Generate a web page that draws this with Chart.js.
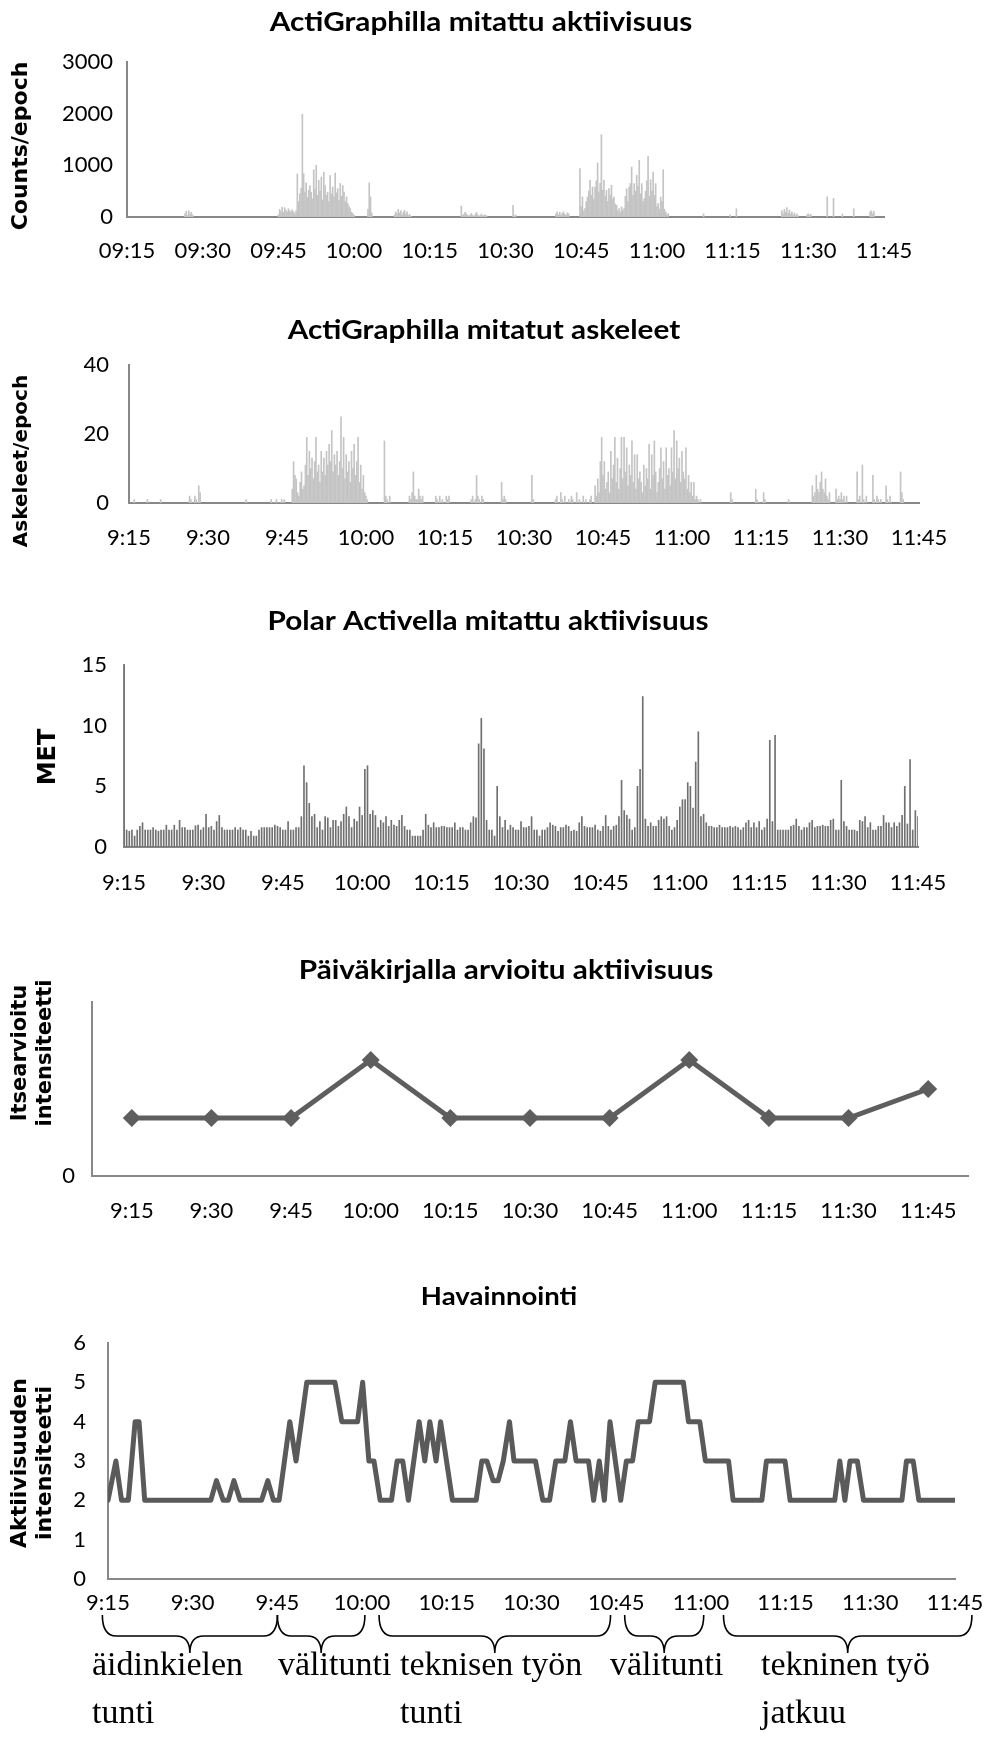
<!DOCTYPE html>
<html>
<head>
<meta charset="utf-8">
<script src="https://cdn.jsdelivr.net/npm/chart.js@4.4.1/dist/chart.umd.min.js"></script>
<style>
  html, body { margin: 0; padding: 0; background: #fff; }
  #page { position: relative; width: 987px; height: 1744px; overflow: hidden; }
  #page canvas { position: absolute; left: 0; }
  .lesson { position: absolute; font-family: "Liberation Serif", serif; font-size: 34px; line-height: 48px; color: #000; white-space: nowrap; }
</style>
</head>
<body>
<div id="page">
  <canvas id="counts" width="987" height="290" style="top:0px"></canvas>
  <canvas id="steps" width="987" height="290" style="top:290px"></canvas>
  <canvas id="met" width="987" height="330" style="top:580px"></canvas>
  <canvas id="diary" width="987" height="330" style="top:910px"></canvas>
  <canvas id="obs" width="987" height="504" style="top:1240px"></canvas>
  <div class="lesson" style="left:92px; top:1640px">äidinkielen<br>tunti</div>
  <div class="lesson" style="left:278px; top:1640px">välitunti</div>
  <div class="lesson" style="left:400px; top:1640px">teknisen työn<br>tunti</div>
  <div class="lesson" style="left:610px; top:1640px">välitunti</div>
  <div class="lesson" style="left:761px; top:1640px">tekninen työ<br>jatkuu</div>
</div>
<script>
// --- tick labels ---
const clockLabels = ['9:15', '9:30', '9:45', '10:00', '10:15', '10:30', '10:45', '11:00', '11:15', '11:30', '11:45'];
const clockLabelsPadded = ['09:15', '09:30', '09:45', '10:00', '10:15', '10:30', '10:45', '11:00', '11:15', '11:30', '11:45'];

// --- ActiGraph counts (15 s epochs, minutes after 9:15; zero epochs left out) ---
const epoch15 = 0.25;
const countStarts = [11.5, 30.0, 33.75, 47.75, 53.0, 66.25, 76.5, 85.0, 89.75, 114.25, 119.5, 120.75, 129.75, 134.75, 138.75, 140.0, 141.75, 144.0, 147.25];
const countRuns = [
  [60, 110, 30, 120, 50, 90, 40],
  [40, 150, 110, 190, 90, 180, 130, 100, 160, 120, 90, 140, 100, 60, 120],
  [830, 300, 450, 560, 1990, 840, 480, 660, 380, 520, 610, 480, 350, 915, 540, 1000, 420, 710, 500, 775, 330, 865, 610, 420, 480, 300, 800, 450, 580, 390, 850, 470, 550, 320, 650, 400, 610, 480, 300, 390, 260, 200, 160, 90, 65, 30],
  [150, 660, 390, 80],
  [40, 100, 60, 150, 80, 120, 40, 90, 130, 60, 100, 30, 50, 20],
  [210, 30, 50, 90, 60, 30, 20, 40, 70, 30, 20, 50, 90, 40, 20, 30, 60, 20, 30, 40, 20],
  [225, 20, 40],
  [60, 100, 40, 90, 30, 70, 100, 50, 30, 80, 60],
  [935, 200, 387, 120, 161, 300, 387, 500, 710, 420, 580, 350, 580, 700, 1045, 480, 650, 1593, 520, 710, 400, 516, 300, 548, 420, 613, 350, 387, 250, 226, 120, 161, 90, 194, 130, 161, 400, 548, 300, 580, 650, 968, 420, 645, 500, 806, 600, 1097, 450, 645, 300, 355, 500, 700, 1174, 400, 722, 500, 871, 420, 645, 200, 258, 150, 387, 300, 916, 150, 97, 40, 65],
  [60],
  [40],
  [160],
  [120, 60, 150, 90, 180, 70, 130, 60, 100, 40, 80, 30, 60, 20],
  [40, 60, 30, 50],
  [390],
  [360],
  [60],
  [160],
  [100, 120, 60, 110]
];

// --- ActiGraph steps (15 s epochs) ---
const stepStarts = [1.0, 3.5, 6.0, 11.5, 22.25, 27.0, 31.0, 48.5, 53.25, 58.25, 65.0, 70.75, 76.5, 81.0, 88.5, 114.25, 119.0, 125.25, 129.75, 134.25, 138.25, 141.25, 143.75, 146.5];
const stepRuns = [
  [1], [1], [1],
  [2, 1, 0, 0, 2, 1, 0, 5, 3],
  [1],
  [1, 0, 0, 0, 1, 0, 0, 0, 1, 0, 1],
  [4, 12, 8, 7, 3, 2, 6, 9, 4, 5, 11, 19, 8, 15, 10, 13, 7, 12, 19, 9, 11, 6, 15, 9, 13, 8, 15, 11, 17, 12, 21, 9, 14, 11, 15, 8, 12, 25, 10, 19, 7, 14, 9, 12, 6, 15, 10, 17, 8, 12, 19, 6, 11, 4, 8, 3, 2, 1],
  [18, 2, 1, 0, 2],
  [2, 1, 3, 9, 2, 1, 1, 4, 2, 1, 2],
  [2, 1, 0, 2, 0, 1, 0, 0, 2, 1, 2],
  [1, 2, 0, 1, 8, 2, 1, 0, 2, 1],
  [6, 1, 2, 1],
  [8, 1],
  [1, 2, 0, 0, 3, 1, 0, 2, 0, 0, 1, 0, 2, 1, 0, 0, 3, 0, 1, 0, 0, 2, 0, 1, 0, 0, 1, 2],
  [5, 2, 7, 3, 12, 19, 8, 12, 4, 6, 9, 3, 15, 7, 11, 19, 6, 13, 4, 10, 19, 7, 19, 9, 16, 5, 11, 8, 18, 6, 14, 4, 14, 7, 9, 6, 3, 11, 5, 10, 7, 17, 4, 14, 8, 18, 9, 3, 6, 10, 16, 7, 12, 4, 16, 8, 10, 5, 16, 9, 21, 7, 18, 10, 13, 6, 15, 9, 7, 16, 4, 8, 3, 6, 2, 6, 1, 2, 1, 0, 1],
  [3, 1],
  [4, 1, 0, 0, 0, 0, 3, 1],
  [1],
  [5, 2, 3, 8, 4, 3, 6, 9, 4, 3, 7, 2, 1, 3],
  [4, 1, 2, 1, 3, 1, 2, 0, 2],
  [9, 1, 2, 0, 11, 1, 0, 2],
  [8, 1, 0, 2, 1, 0, 1],
  [5, 1, 0, 2],
  [9, 3, 1]
];

// --- Polar Active MET (30 s epochs from 9:15) ---
const epoch30 = 0.5;
const metValues = [
  15, 1.4, 1.3, 1.4, 0.9, 1.4, 1.7, 2.0, 1.4, 1.4,
  1.4, 1.6, 1.4, 1.3, 1.4, 1.4, 1.8, 1.4, 1.4, 1.8,
  1.4, 2.2, 1.6, 1.6, 1.4, 1.4, 1.4, 1.75, 1.8, 1.4,
  1.6, 2.7, 1.6, 1.7, 1.4, 2.1, 2.6, 1.6, 1.4, 1.4,
  1.4, 1.4, 1.6, 1.4, 1.6, 1.4, 1.4, 0.9, 1.3, 0.9,
  0.9, 1.4, 1.6, 1.6, 1.6, 1.6, 1.6, 1.8, 1.7, 1.6,
  1.4, 1.4, 2.1, 1.4, 1.4, 1.6, 1.6, 2.5, 6.7, 5.3,
  3.6, 2.5, 2.7, 1.6, 2.1, 1.4, 2.5, 2.4, 1.6, 2.2,
  2.2, 1.7, 2.1, 2.7, 3.3, 2.5, 1.6, 2.3, 2.1, 3.3,
  2.6, 6.4, 6.7, 2.7, 3.0, 2.6, 1.6, 2.2, 2.0, 2.5,
  1.7, 2.2, 1.8, 1.7, 2.2, 2.6, 1.7, 1.4, 1.4, 0.9,
  0.9, 0.9, 0.9, 1.4, 2.7, 1.8, 1.6, 2.0, 1.6, 1.6,
  1.7, 1.7, 1.6, 1.6, 1.6, 2.0, 1.4, 1.6, 1.6, 1.4,
  1.4, 2.0, 2.5, 2.4, 8.5, 10.6, 8.1, 2.2, 1.4, 1.4,
  0.9, 5.0, 2.5, 1.6, 2.2, 1.4, 1.8, 1.6, 1.4, 1.4,
  2.1, 1.6, 1.6, 1.7, 2.5, 1.4, 1.4, 0.9, 1.4, 1.4,
  1.6, 2.0, 1.8, 1.7, 1.3, 1.6, 1.6, 1.8, 1.7, 1.3,
  1.4, 1.3, 2.0, 2.5, 1.7, 1.6, 1.6, 1.6, 1.8, 1.4,
  1.3, 1.7, 2.6, 1.7, 1.4, 1.7, 1.8, 2.5, 5.5, 3.0,
  2.6, 2.3, 1.4, 1.6, 5.0, 6.4, 12.4, 2.3, 1.7, 2.0,
  1.7, 1.7, 2.2, 2.5, 2.3, 2.5, 1.7, 1.4, 1.6, 2.2,
  3.3, 3.9, 3.9, 5.3, 5.0, 3.2, 7.0, 9.5, 2.5, 2.7,
  2.0, 1.7, 1.7, 1.6, 1.6, 1.8, 1.6, 1.6, 1.6, 1.7,
  1.6, 1.7, 1.6, 1.4, 1.6, 2.0, 2.2, 1.6, 2.0, 1.6,
  2.1, 1.4, 1.6, 2.3, 8.8, 2.1, 9.2, 1.4, 1.4, 1.4,
  1.4, 1.4, 1.7, 1.8, 2.3, 1.7, 1.4, 1.6, 1.6, 2.0,
  2.2, 1.6, 1.7, 1.7, 1.8, 1.7, 1.7, 2.2, 2.3, 1.4,
  1.4, 5.5, 2.1, 1.7, 1.4, 1.4, 1.4, 1.3, 2.2, 2.1,
  2.5, 1.6, 2.0, 1.4, 1.4, 1.7, 1.7, 2.6, 2.0, 2.0,
  1.6, 2.0, 1.7, 2.0, 2.6, 5.0, 1.9, 7.2, 1.4, 3.0,
  2.5
];

// --- diary (self-rated intensity every 15 min) ---
const diaryValues = [1, 1, 1, 2, 1, 1, 1, 2, 1, 1, 1.5];

// --- observation (minutes after 9:15, intensity) ---
const obsMin = [0, 1.4, 2.4, 3.6, 4.8, 5.5, 6.5, 18.2, 19.2, 20.4, 21.3, 22.3, 23.4, 27.2, 28.3, 29.3, 30.3, 32.2, 33.3, 35.2, 40.2, 41.4, 44.2, 45.1, 46.2, 47.1, 48.2, 50.2, 51.2, 52.2, 53.2, 55.1, 56.1, 57, 58.1, 58.9, 61, 65.2, 66.2, 67.1, 68.2, 69.1, 70, 71.1, 71.9, 75.7, 77, 78.2, 79.3, 80.9, 81.9, 82.9, 85.1, 86, 87, 87.9, 88.9, 90.8, 91.8, 92.9, 93.9, 95.9, 96.9, 101.9, 102.8, 104.8, 105.8, 109.9, 110.7, 115.8, 116.6, 119.9, 120.8, 128.7, 129.6, 130.5, 131.4, 132.7, 133.8, 140.6, 141.4, 142.6, 143.6, 150];
const obsVal = [2, 3, 2, 2, 4, 4, 2, 2, 2.5, 2, 2, 2.5, 2, 2, 2.5, 2, 2, 4, 3, 5, 5, 4, 4, 5, 3, 3, 2, 2, 3, 3, 2, 4, 3, 4, 3, 4, 2, 2, 3, 3, 2.5, 2.5, 3, 4, 3, 3, 2, 2, 3, 3, 4, 3, 3, 2, 3, 2, 4, 2, 3, 3, 4, 4, 5, 5, 4, 4, 3, 3, 2, 2, 3, 3, 2, 2, 3, 2, 3, 3, 2, 2, 3, 3, 2, 2];

// lesson periods under the last chart (minutes after 9:15)
const lessonFrom = [-1, 30, 48, 91.5, 109];
const lessonTo = [30, 45.5, 89, 105.5, 153];

const axisGray = '#888888';
const tickFont = { family: 'Lato', size: 22 };
Chart.defaults.font.family = 'Lato';
Chart.defaults.color = '#000';

function fromRuns(starts, runs, step) {
  const pts = [];
  runs.forEach((vals, k) => vals.forEach((v, j) => pts.push({ x: starts[k] + j * step, y: v })));
  return pts;
}

// draws titles, rotated axis titles and the lesson braces
const decor = {
  id: 'decor',
  afterDraw(chart, args, o) {
    const ctx = chart.ctx;
    const off = o.top || 0;
    ctx.save();
    ctx.fillStyle = '#000';
    ctx.textAlign = 'center';
    ctx.textBaseline = 'middle';
    if (o.title) {
      ctx.save();
      ctx.font = 'bold ' + o.title.px + 'px Lato';
      ctx.translate(o.title.x, o.title.y - off);
      ctx.scale(1.1, 1);
      ctx.fillText(o.title.text, 0, 0);
      ctx.restore();
    }
    if (o.yTitle) {
      ctx.font = 'bold ' + o.yTitle.px + 'px "DejaVu Sans"';
      o.yTitle.lines.forEach((line, k) => {
        ctx.save();
        ctx.translate(o.yTitle.x[k], o.yTitle.y - off);
        ctx.rotate(-Math.PI / 2);
        ctx.fillText(line, 0, 0);
        ctx.restore();
      });
    }
    if (o.braces) {
      const b = o.braces, xs = chart.scales.x, r = 14;
      ctx.strokeStyle = '#000';
      ctx.lineWidth = 1.6;
      b.from.forEach((f, k) => {
        const x0 = xs.getPixelForValue(f), x1 = xs.getPixelForValue(b.to[k]);
        const xm = (x0 + x1) / 2;
        const yt = b.top - off, ym = b.mid - off, yp = b.tip - off;
        ctx.beginPath();
        ctx.moveTo(x0, yt);
        ctx.quadraticCurveTo(x0, ym, x0 + r, ym);
        ctx.lineTo(xm - r, ym);
        ctx.quadraticCurveTo(xm, ym, xm, yp);
        ctx.quadraticCurveTo(xm, ym, xm + r, ym);
        ctx.lineTo(x1 - r, ym);
        ctx.quadraticCurveTo(x1, ym, x1, yt);
        ctx.stroke();
      });
    }
    ctx.restore();
  }
};

// plot rectangle given in page pixels
function frame(top, height, plot) {
  return {
    padding: { left: 0, right: 987 - plot.right, top: plot.top - top, bottom: 0 },
    yWidth: plot.left,
    xHeight: top + height - plot.bottom
  };
}

function timeAxis(labels, pad, fr) {
  return {
    type: 'linear', min: 0, max: 150, offset: false,
    grid: { display: false, drawTicks: false, offset: false },
    border: { color: axisGray, width: 2 },
    ticks: { stepSize: 15, autoSkip: false, maxRotation: 0, padding: pad, font: tickFont,
             callback: (v, i) => labels[i] },
    afterFit: s => { s.height = fr.xHeight; s.paddingLeft = 0; s.paddingRight = 0; }
  };
}

function valueAxis(max, step, fr, pad, cb) {
  return {
    min: 0, max: max,
    grid: { display: false, drawTicks: false },
    border: { color: axisGray, width: 2 },
    ticks: { stepSize: step, padding: pad, font: tickFont, callback: cb || (v => v) },
    afterFit: s => { s.width = fr.yWidth; s.paddingTop = 0; s.paddingBottom = 0; }
  };
}

function baseOptions(fr, decorOpts, scales) {
  return {
    responsive: false,
    animation: false,
    layout: { autoPadding: false, padding: fr.padding },
    plugins: { legend: { display: false }, tooltip: { enabled: false }, decor: decorOpts },
    scales: scales
  };
}

// 1. counts
const f1 = frame(0, 290, { left: 127, right: 884, top: 62, bottom: 217 });
new Chart(document.getElementById('counts'), {
  type: 'bar',
  data: { datasets: [{ data: fromRuns(countStarts, countRuns, epoch15), backgroundColor: '#c4c4c4', barThickness: 1, borderWidth: 0 }] },
  options: baseOptions(f1,
    { top: 0, title: { text: 'ActiGraphilla mitattu aktiivisuus', x: 481, y: 22, px: 27 },
      yTitle: { lines: ['Counts/epoch'], x: [21], y: 146, px: 22 } },
    { x: timeAxis(clockLabelsPadded, 21, f1), y: valueAxis(3000, 1000, f1, 14) }),
  plugins: [decor]
});

// 2. steps
const f2 = frame(290, 290, { left: 129, right: 919, top: 365, bottom: 503 });
new Chart(document.getElementById('steps'), {
  type: 'bar',
  data: { datasets: [{ data: fromRuns(stepStarts, stepRuns, epoch15), backgroundColor: '#c4c4c4', barThickness: 1, borderWidth: 0 }] },
  options: baseOptions(f2,
    { top: 290, title: { text: 'ActiGraphilla mitatut askeleet', x: 484, y: 330, px: 27 },
      yTitle: { lines: ['Askeleet/epoch'], x: [22], y: 461, px: 20 } },
    { x: timeAxis(clockLabels, 22, f2), y: valueAxis(40, 20, f2, 20) }),
  plugins: [decor]
});

// 3. MET
const f3 = frame(580, 330, { left: 124, right: 918, top: 665, bottom: 847 });
new Chart(document.getElementById('met'), {
  type: 'bar',
  data: { datasets: [{ data: metValues.map((v, i) => ({ x: i * epoch30, y: v })), backgroundColor: '#707070', barThickness: 1, borderWidth: 0 }] },
  options: baseOptions(f3,
    { top: 580, title: { text: 'Polar Activella mitattu aktiivisuus', x: 488, y: 621, px: 27 },
      yTitle: { lines: ['MET'], x: [49], y: 757, px: 24 } },
    { x: timeAxis(clockLabels, 23, f3), y: valueAxis(15, 5, f3, 17) }),
  plugins: [decor]
});

// 4. diary
const f4 = frame(910, 330, { left: 92, right: 968, top: 1002, bottom: 1176 });
new Chart(document.getElementById('diary'), {
  type: 'line',
  data: { labels: clockLabels, datasets: [{ data: diaryValues, borderColor: '#5e5e5e', borderWidth: 5, tension: 0,
    pointStyle: 'rectRot', pointRadius: 9, pointBackgroundColor: '#5e5e5e', pointBorderWidth: 0 }] },
  options: baseOptions(f4,
    { top: 910, title: { text: 'Päiväkirjalla arvioitu aktiivisuus', x: 506, y: 970, px: 27 },
      yTitle: { lines: ['Itsearvioitu', 'intensiteetti'], x: [21, 46], y: 1053, px: 21 } },
    {
      x: { type: 'category', offset: true, grid: { display: false, drawTicks: false }, border: { color: axisGray, width: 2 },
           ticks: { padding: 22, font: tickFont, maxRotation: 0, autoSkip: false },
           afterFit: s => { s.height = f4.xHeight; s.paddingLeft = 0; s.paddingRight = 0; } },
      y: valueAxis(3, 3, f4, 17, v => (v === 0 ? '0' : ''))
    }),
  plugins: [decor]
});

// 5. observation
const f5 = frame(1240, 504, { left: 108, right: 955, top: 1343, bottom: 1579 });
new Chart(document.getElementById('obs'), {
  type: 'line',
  data: { datasets: [{ data: obsMin.map((m, i) => ({ x: m, y: obsVal[i] })), borderColor: '#5a5a5a', borderWidth: 5,
    tension: 0, pointRadius: 0, borderJoinStyle: 'round', borderCapStyle: 'round' }] },
  options: baseOptions(f5,
    { top: 1240, title: { text: 'Havainnointi', x: 499, y: 1297, px: 25 },
      yTitle: { lines: ['Aktiivisuuden', 'intensiteetti'], x: [20, 45], y: 1463, px: 22 },
      braces: { from: lessonFrom, to: lessonTo, top: 1615, mid: 1636, tip: 1653 } },
    { x: timeAxis(clockLabels, 11, f5), y: valueAxis(6, 1, f5, 22) }),
  plugins: [decor]
});
</script>
</body>
</html>
